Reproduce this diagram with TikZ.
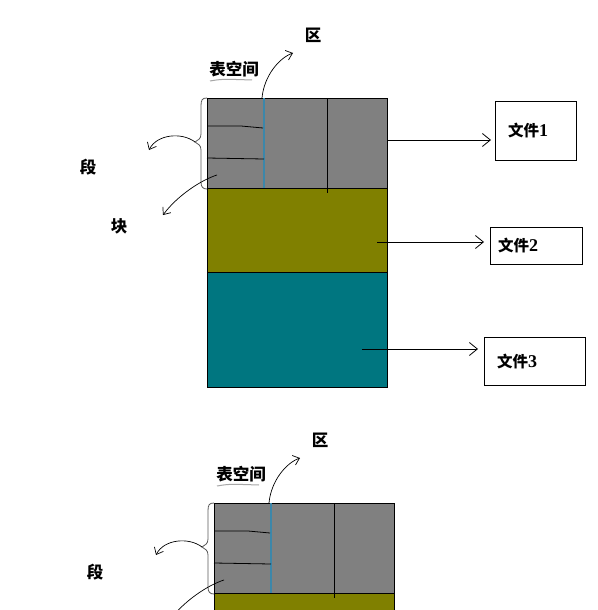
\documentclass[tikz,border=0pt]{standalone}
\usepackage{fontspec}
\newfontfamily\cjk{Noto Sans CJK SC}
\newfontfamily\dig{Liberation Serif}
\usetikzlibrary{arrows.meta,positioning}
\definecolor{blkgray}{RGB}{128,128,128}
\definecolor{blkolive}{RGB}{128,128,0}
\definecolor{blkteal}{RGB}{0,118,128}
\definecolor{lineblue}{RGB}{60,135,170}

\begin{document}
\begin{tikzpicture}[x=1pt, y=-1pt,
  blk/.style={rectangle, draw=black, line width=0.8pt, minimum width=180pt,
              inner sep=0pt, outer sep=0pt, anchor=north west},
  lbl/.style={font=\cjk\bfseries\fontsize{16.5}{16.5}\selectfont, inner sep=0pt},
  filebox/.style={rectangle, draw=black, line width=0.8pt, align=left,
                  font=\cjk\bfseries\fontsize{15.5}{15.5}\selectfont,
                  outer sep=0pt, anchor=north west},
  harr/.style={-{Straight Barb[length=6pt,width=10pt]}, line width=0.7pt},
  farr/.style={-{Straight Barb[length=8pt,width=13pt]}, line width=0.8pt},
  tbs/.pic={
    % storage blocks
    \node[blk, fill=blkgray,  minimum height=90pt]  (-gray)  at (0,0) {};
    \node[blk, fill=blkolive, minimum height=84pt]  (-olive) at (-gray.south west) {};
    \node[blk, fill=blkteal,  minimum height=115pt] (-teal)  at (-olive.south west) {};
    \draw[lineblue, line width=1.1pt] (57,0) -- (57,90);
    \draw[line width=0.8pt] (120,0) -- (120,95);
    \draw[line width=0.8pt] (0,28) -- (34,28) -- (56,30);
    \draw[line width=0.8pt] (0,60) -- (57,61);
    % brace
    \draw[black!65, line width=0.8pt] (0,0) .. controls (-5,0) and (-6,2) .. (-6,8) -- (-6,36)
      .. controls (-6,41) and (-9,42) .. (-12,44) .. controls (-9,46) and (-6,47) .. (-6,52)
      -- (-6,84) .. controls (-6,89) and (-4,91) .. (0,91);
    % labels
    \node[lbl] (-seg) at (-119,69) {段};
    \node[lbl] (-ts)  at (27,-29) {表空间};
    \node[lbl] (-ext) at (106,-63) {区};
    \draw[black!35, line width=1pt] (3,-17) .. controls (15,-19) .. (45,-18);
    % pointers
    \coordinate (-brtip) at (-12,44);
    \coordinate (-segend) at (-58,52);
    \coordinate (-bstart) at (10,77);
    \coordinate (-bend) at (-44,117);
    \coordinate (-xstart) at (55,0);
    \coordinate (-xend) at (86,-45);
    \draw[harr] (-brtip) .. controls (-25,34) and (-50,36) .. (-segend);
    \draw[harr] (-bstart) .. controls (-6,82) and (-30,98) .. (-bend);
    \draw[harr] (-xstart) .. controls (57,-22) and (72,-40) .. (-xend);
  }
]
\useasboundingbox (0,0) rectangle (597,610);
\fill[white] (0,0) rectangle (597,610);
\clip (0,0) rectangle (597,610);

% two copies of the tablespace
\pic (top) at (207,98) {tbs};
\pic (bot) at (214,503) {tbs};
\node[lbl] (blk) at (119,226) {块};

% data files
\newcommand\fdig[1]{{\dig\fontsize{18}{18}\selectfont #1}}
\node[filebox, text width=55pt, inner xsep=13pt, minimum height=59pt] (f1) at (495,101) {文件\fdig{1}};
\node[filebox, text width=76pt, inner xsep=8pt,  minimum height=37pt] (f2) at (490,227) {文件\fdig{2}};
\node[filebox, text width=75pt, inner xsep=13pt, minimum height=48pt] (f3) at (484,337) {文件\fdig{3}};

\coordinate (a1) at (387,140);
\coordinate (a2) at (377,242);
\coordinate (a3) at (362,349);
\draw[farr, shorten >=4pt] (a1) -- (a1 -| f1.west);
\draw[farr, shorten >=6pt] (a2) -- (a2 -| f2.west);
\draw[farr, shorten >=6pt] (a3) -- (a3 -| f3.west);
\end{tikzpicture}
\end{document}
